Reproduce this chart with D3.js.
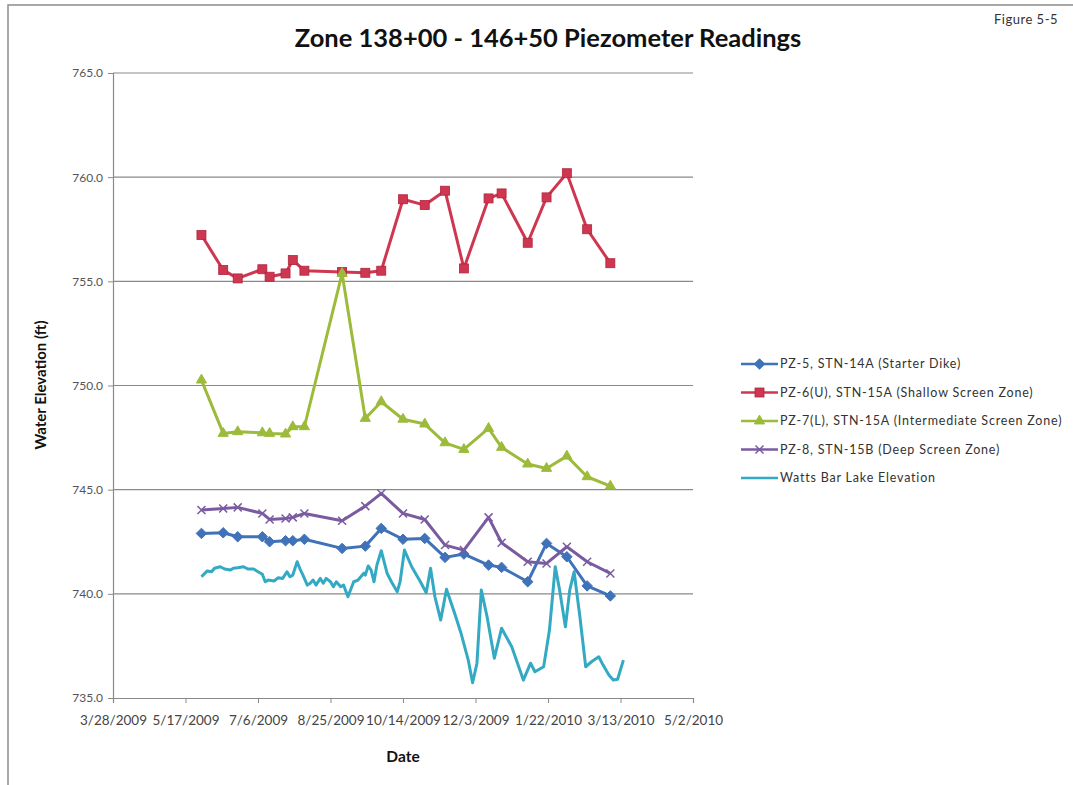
<!DOCTYPE html>
<html><head><meta charset="utf-8">
<script src="https://cdn.jsdelivr.net/npm/d3@7"></script>
<style>body{margin:0;background:#fff}svg{display:block}</style>
</head><body>
<svg id="c" width="1073" height="785"></svg>
<script>
// ---- data ----
const xTickLabels = ["3/28/2009","5/17/2009","7/6/2009","8/25/2009","10/14/2009","12/3/2009","1/22/2010","3/13/2010","5/2/2010"];
const yTicks = [735,740,745,750,755,760,765];

const pzDates = ["5/28/2009","6/12/2009","6/22/2009","7/9/2009","7/14/2009","7/25/2009","7/30/2009","8/7/2009","9/2/2009","9/18/2009","9/29/2009","10/14/2009","10/29/2009","11/12/2009","11/25/2009","12/12/2009","12/21/2009","1/8/2010","1/21/2010","2/4/2010","2/18/2010","3/6/2010"];
const pz5 = [742.90,742.93,742.74,742.74,742.50,742.55,742.55,742.62,742.18,742.29,743.14,742.62,742.66,741.75,741.91,741.38,741.27,740.58,742.42,741.78,740.38,739.90];
const pz6 = [757.22,755.54,755.14,755.58,755.22,755.38,756.02,755.51,755.45,755.41,755.51,758.94,758.66,759.35,755.62,758.98,759.22,756.85,759.03,760.19,757.50,755.87];
const pz7 = [750.26,747.70,747.78,747.73,747.70,747.67,748.02,748.02,755.38,748.42,749.22,748.38,748.15,747.25,746.93,747.94,747.03,746.23,746.02,746.61,745.62,745.17];
const pz8 = [744.02,744.10,744.15,743.86,743.57,743.62,743.67,743.86,743.51,744.21,744.82,743.86,743.57,742.34,742.10,743.67,742.45,741.54,741.46,742.26,741.54,740.98];

const lakeDates = ["5/28/2009","6/1/2009","6/4/2009","6/6/2009","6/10/2009","6/13/2009","6/17/2009","6/19/2009","6/22/2009","6/26/2009","6/29/2009","7/3/2009","7/6/2009","7/9/2009","7/11/2009","7/13/2009","7/17/2009","7/20/2009","7/23/2009","7/26/2009","7/28/2009","7/30/2009","8/2/2009","8/4/2009","8/6/2009","8/9/2009","8/11/2009","8/13/2009","8/15/2009","8/18/2009","8/20/2009","8/22/2009","8/25/2009","8/27/2009","8/29/2009","9/1/2009","9/3/2009","9/6/2009","9/10/2009","9/13/2009","9/17/2009","9/18/2009","9/20/2009","9/22/2009","9/24/2009","9/26/2009","9/29/2009","10/3/2009","10/6/2009","10/10/2009","10/12/2009","10/15/2009","10/20/2009","10/26/2009","10/30/2009","11/2/2009","11/5/2009","11/9/2009","11/13/2009","11/19/2009","11/23/2009","11/28/2009","12/1/2009","12/4/2009","12/7/2009","12/11/2009","12/16/2009","12/21/2009","12/28/2009","1/5/2010","1/10/2010","1/13/2010","1/19/2010","1/23/2010","1/27/2010","1/30/2010","2/3/2010","2/6/2010","2/9/2010","2/13/2010","2/17/2010","2/21/2010","2/26/2010","3/1/2010","3/5/2010","3/8/2010","3/11/2010","3/15/2010"];
const lakeValues = [740.82,741.10,741.06,741.23,741.30,741.19,741.14,741.23,741.25,741.30,741.19,741.19,741.06,740.94,740.58,740.66,740.62,740.77,740.74,741.06,740.82,740.90,741.54,741.19,740.90,740.42,740.51,740.66,740.42,740.74,740.51,740.74,740.58,740.34,740.58,740.34,740.42,739.86,740.58,740.66,740.99,740.90,741.34,741.14,740.58,741.38,742.07,740.99,740.58,740.10,740.58,742.10,741.30,740.58,740.05,741.23,739.86,738.74,740.22,738.98,738.11,736.82,735.73,736.67,740.18,738.90,736.91,738.35,737.46,735.86,736.67,736.26,736.50,738.26,741.30,740.18,738.42,740.18,741.06,738.90,736.50,736.74,736.98,736.58,736.10,735.86,735.90,736.82];

const seriesNames = ["PZ-5, STN-14A (Starter Dike)","PZ-6(U), STN-15A (Shallow Screen Zone)","PZ-7(L), STN-15A (Intermediate Screen Zone)","PZ-8, STN-15B (Deep Screen Zone)","Watts Bar Lake Elevation"];

// ---- chart ----
const parse = d3.timeParse("%m/%d/%Y");
const svg = d3.select("#c");
const F = "Lato, 'Open Sans', sans-serif";

svg.append("rect").attr("x",8).attr("y",5).attr("width",1100).attr("height",800)
  .attr("fill","#fff").attr("stroke","#8c8c8c").attr("stroke-width",1.5);

const L = 113, R = 693, T = 73, B = 698;
const tickDates = xTickLabels.map(parse);
const x = d3.scaleTime().domain([tickDates[0], tickDates[tickDates.length-1]]).range([L, R]);
const y = d3.scaleLinear().domain([735,765]).range([B, T]);

// gridlines
svg.append("g").selectAll("line").data(yTicks.filter(v=>v>735)).join("line")
  .attr("x1",L).attr("x2",R).attr("y1",d=>y(d)).attr("y2",d=>y(d))
  .attr("stroke","#8a8a8a").attr("stroke-width",1.2);

// axes
const yAxis = svg.append("g").attr("transform",`translate(${L},0)`)
  .call(d3.axisLeft(y).tickValues(yTicks).tickFormat(d3.format(".1f")).tickSize(5).tickPadding(5));
const xAxis = svg.append("g").attr("transform",`translate(0,${B})`)
  .call(d3.axisBottom(x).tickValues(tickDates).tickFormat((d,i)=>xTickLabels[i]).tickSize(5).tickPadding(12));
[yAxis,xAxis].forEach(a=>{
  a.selectAll(".domain").attr("stroke","#8a8a8a").attr("stroke-width",1.2);
  a.selectAll(".tick line").attr("stroke","#8a8a8a");
  a.selectAll("text").attr("font-family",F).attr("font-size",12).attr("fill","#555");
});
xAxis.selectAll("text").attr("font-size",13.5).attr("fill","#444");

const colors = ["#3F72B8","#CF3650","#9DBB3A","#7A5BA0","#33A9C3"];
const line = d3.line().x(d=>x(d.date)).y(d=>y(d.v));

const pzSeries = [pz5,pz6,pz7,pz8].map(vals => pzDates.map((s,i)=>({date:parse(s), v:vals[i]})));
const lake = lakeDates.map((s,i)=>({date:parse(s), v:lakeValues[i]}));

function marker(g, type, c){
  if(type===0) g.append("path").attr("d",d3.symbol(d3.symbolDiamond2,70)()).attr("fill",c).attr("stroke",c);
  if(type===1) g.append("rect").attr("x",-4.5).attr("y",-4.5).attr("width",9).attr("height",9).attr("fill",c).attr("stroke","#b02540").attr("stroke-width",0.8);
  if(type===2) g.append("path").attr("d",d3.symbol(d3.symbolTriangle,45)()).attr("fill",c).attr("stroke",c);
  if(type===3) g.append("path").attr("d","M-4,-4L4,4M-4,4L4,-4").attr("stroke",c).attr("stroke-width",1.5).attr("fill","none");
}

const plot = svg.append("g");
pzSeries.forEach((data,k)=>{
  plot.append("path").datum(data).attr("d",line).attr("fill","none")
    .attr("stroke",colors[k]).attr("stroke-width",3).attr("stroke-linejoin","round");
  plot.append("g").selectAll("g").data(data).join("g")
    .attr("transform",d=>`translate(${x(d.date)},${y(d.v)})`)
    .each(function(){ marker(d3.select(this),k,colors[k]); });
});
plot.append("path").datum(lake).attr("d",line).attr("fill","none")
  .attr("stroke",colors[4]).attr("stroke-width",3).attr("stroke-linejoin","round");

// legend
const lg = svg.append("g");
seriesNames.forEach((n,k)=>{
  const yy = 364 + k*28.5;
  lg.append("line").attr("x1",741).attr("x2",778).attr("y1",yy).attr("y2",yy)
    .attr("stroke",colors[k]).attr("stroke-width",2.5);
  if(k<4){ const g = lg.append("g").attr("transform",`translate(759.5,${yy})`); marker(g,k,colors[k]); }
  lg.append("text").attr("x",780).attr("y",yy).attr("dy","0.35em").attr("font-family",F)
    .attr("font-size",12.5).attr("letter-spacing","0.8px").attr("fill","#333").text(n);
});

// titles
svg.append("text").attr("x",548).attr("y",47).attr("text-anchor","middle").attr("font-family",F)
  .attr("font-weight","bold").attr("font-size",25.5).attr("fill","#111").text("Zone 138+00 - 146+50 Piezometer Readings");
svg.append("text").attr("x",1026).attr("y",24).attr("text-anchor","middle").attr("font-family",F)
  .attr("font-size",13).attr("letter-spacing","0.5px").attr("fill","#333").text("Figure 5-5");
svg.append("text").attr("transform","translate(46,385) rotate(-90)").attr("text-anchor","middle")
  .attr("font-family",F).attr("font-weight","bold").attr("font-size",15).attr("fill","#111").text("Water Elevation (ft)");
svg.append("text").attr("x",403).attr("y",762).attr("text-anchor","middle").attr("font-family",F)
  .attr("font-weight","bold").attr("font-size",15.5).attr("fill","#111").text("Date");
</script>
</body></html>
